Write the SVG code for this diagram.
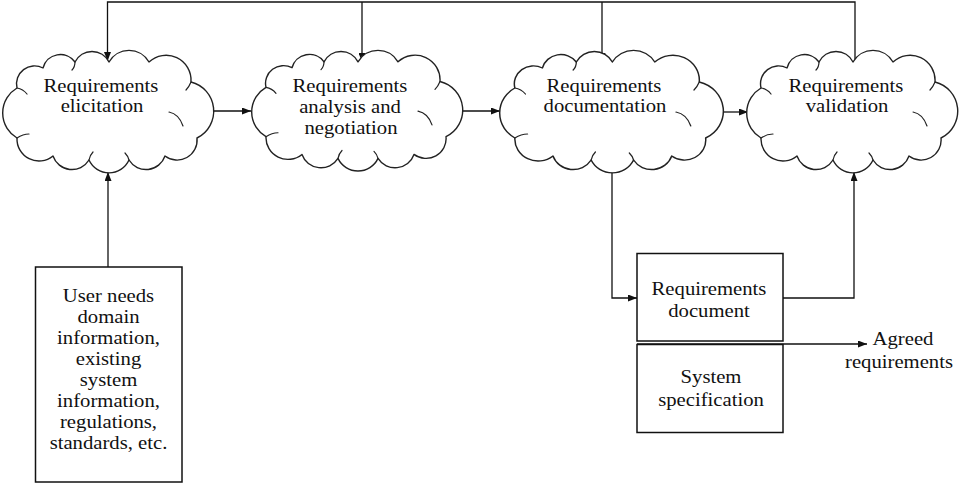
<svg xmlns="http://www.w3.org/2000/svg" xmlns:xlink="http://www.w3.org/1999/xlink" width="959" height="485" viewBox="0 0 959 485">
<style>
.cl{fill:#fff;stroke:#222;stroke-width:1.4;stroke-linejoin:round}
.ci{fill:none;stroke:#222;stroke-width:1.2;stroke-linecap:round}
.bx{fill:#fff;stroke:#111;stroke-width:1.5}
.ln{fill:none;stroke:#111;stroke-width:1.3}
.t{font-family:"Liberation Serif","Times New Roman",serif;font-size:18px;fill:#111;text-anchor:middle}
</style>
<defs>
<marker id="ah" markerWidth="9" markerHeight="7" refX="9" refY="3.5" orient="auto" markerUnits="userSpaceOnUse">
<path d="M0,0 L9,3.5 L0,7 z" fill="#111"/>
</marker>
<path id="cloud" d="M14,88 A29,29 0 0 1 14,38 A18,18 0 0 1 40,18 A18,18 0 0 1 72,12 A19,19 0 0 1 106,12 A23,23 0 0 1 146,12 A25,25 0 0 1 188,32 A30,30 0 0 1 194,88 A20,20 0 0 1 162,106 A20,20 0 0 1 126,110 A22,22 0 0 1 86,110 A20,20 0 0 1 50,106 A22,22 0 0 1 14,88 Z"/>
<path id="cloudin" d="M14,38 q6,1 10,6 M72,12 q0,5 -3,8 M188,32 q-2,5 -5,8 M166,62 q10,2 14,14 M86,110 q1,-5 4,-8 M126,110 q-1,-4 -4,-7 M14,88 q6,-4 12,-4"/>
</defs>

<g id="connectors">
<path class="ln" d="M855,62 V2 H107.5 V61" marker-end="url(#ah)"/>
<path class="ln" d="M362,2 V62" marker-end="url(#ah)"/>
<path class="ln" d="M602,2 V62" marker-end="url(#ah)"/>
<path class="ln" d="M213,111 H251" marker-end="url(#ah)"/>
<path class="ln" d="M462,111 H500" marker-end="url(#ah)"/>
<path class="ln" d="M722,112 H748" marker-end="url(#ah)"/>
<path class="ln" d="M108,267 V172" marker-end="url(#ah)"/>
<path class="ln" d="M612,172 V298 H637" marker-end="url(#ah)"/>
<path class="ln" d="M783,298 H854 V172" marker-end="url(#ah)"/>
<path class="ln" d="M637,344 H867" marker-end="url(#ah)"/>
</g>

<g id="elicitation">
<g transform="translate(3,50)"><use xlink:href="#cloud" class="cl"/><use xlink:href="#cloudin" class="ci"/></g>
<text class="t" transform="translate(101,92) scale(1.15,1)">Requirements</text>
<text class="t" transform="translate(102,112) scale(1.15,1)">elicitation</text>
</g>

<g id="analysis">
<g transform="translate(252,50) scale(1,0.985)"><use xlink:href="#cloud" class="cl"/><use xlink:href="#cloudin" class="ci"/></g>
<text class="t" transform="translate(350,92) scale(1.15,1)">Requirements</text>
<text class="t" transform="translate(350,113) scale(1.15,1)">analysis and</text>
<text class="t" transform="translate(351,134) scale(1.15,1)">negotiation</text>
</g>

<g id="documentation">
<g transform="translate(500,50) scale(1.06,1)"><use xlink:href="#cloud" class="cl"/><use xlink:href="#cloudin" class="ci"/></g>
<text class="t" transform="translate(604,92) scale(1.15,1)">Requirements</text>
<text class="t" transform="translate(605,112) scale(1.15,1)">documentation</text>
</g>

<g id="validation">
<g transform="translate(747,50)"><use xlink:href="#cloud" class="cl"/><use xlink:href="#cloudin" class="ci"/></g>
<text class="t" transform="translate(846,92) scale(1.15,1)">Requirements</text>
<text class="t" transform="translate(847,112) scale(1.15,1)">validation</text>
</g>

<g id="userneeds">
<rect class="bx" x="35.5" y="267" width="146.5" height="215"/>
<text class="t" transform="translate(108.5,302) scale(1.15,1)">User needs</text>
<text class="t" transform="translate(108.5,323) scale(1.15,1)">domain</text>
<text class="t" transform="translate(108.5,344) scale(1.15,1)">information,</text>
<text class="t" transform="translate(108.5,365) scale(1.15,1)">existing</text>
<text class="t" transform="translate(108.5,386) scale(1.15,1)">system</text>
<text class="t" transform="translate(108.5,407) scale(1.15,1)">information,</text>
<text class="t" transform="translate(108.5,428) scale(1.15,1)">regulations,</text>
<text class="t" transform="translate(108.5,449) scale(1.15,1)">standards, etc.</text>
</g>

<g id="reqdoc">
<rect class="bx" x="637" y="253.5" width="146" height="87.5"/>
<text class="t" transform="translate(709,295) scale(1.15,1)">Requirements</text>
<text class="t" transform="translate(709,317) scale(1.15,1)">document</text>
</g>

<g id="sysspec">
<rect class="bx" x="637" y="344.5" width="146" height="88"/>
<text class="t" transform="translate(711,383) scale(1.15,1)">System</text>
<text class="t" transform="translate(711,406) scale(1.15,1)">specification</text>
</g>

<g id="agreed">
<text class="t" transform="translate(903,345) scale(1.15,1)">Agreed</text>
<text class="t" transform="translate(899,368) scale(1.15,1)">requirements</text>
</g>
</svg>
